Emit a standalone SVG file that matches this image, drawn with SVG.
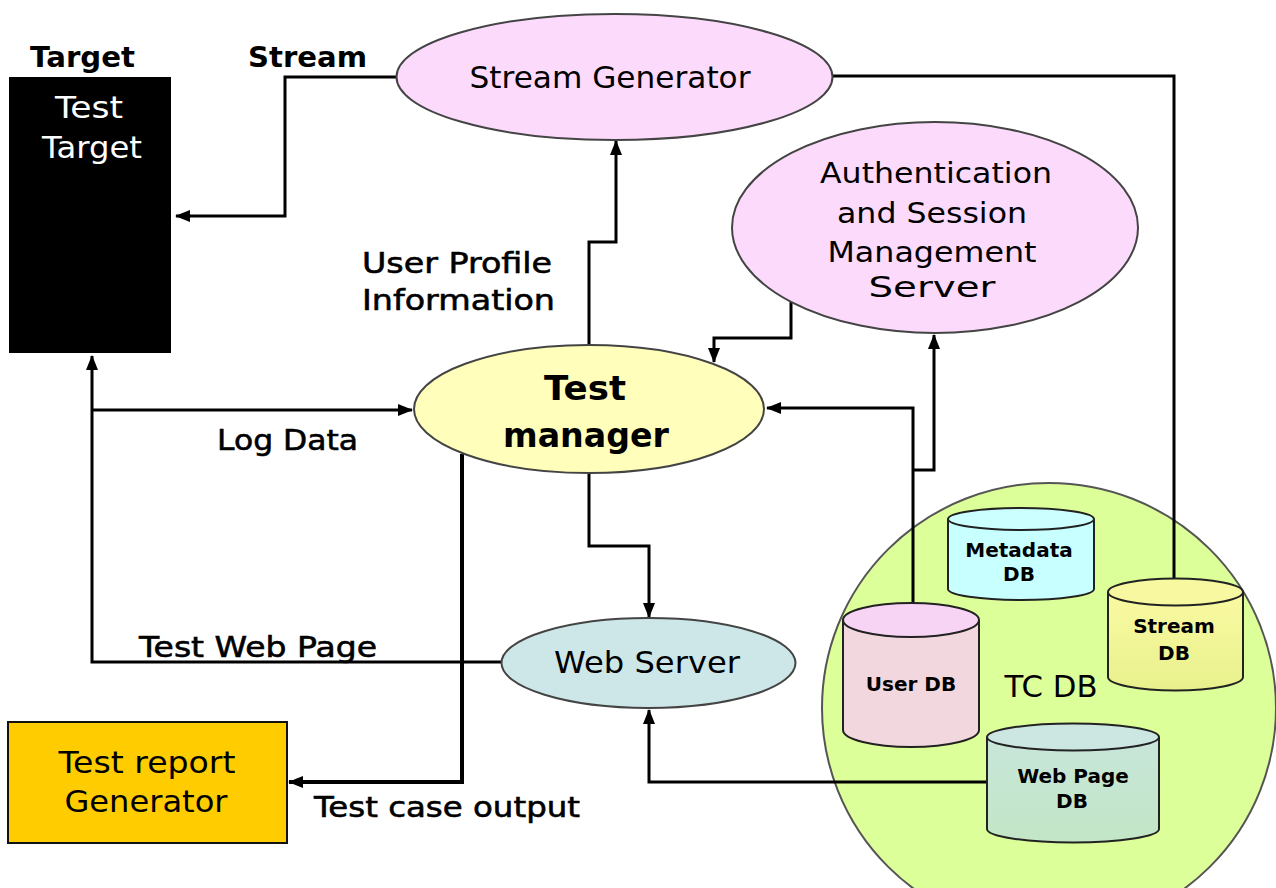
<svg xmlns="http://www.w3.org/2000/svg" width="1276" height="888" viewBox="0 0 1276 888">
  <defs>
    <marker id="arrow" markerUnits="userSpaceOnUse" markerWidth="15" markerHeight="12" refX="14" refY="6" orient="auto">
      <path d="M0,0 L15,6 L0,12 z" fill="#000"/>
    </marker>
    <linearGradient id="streamBody" x1="0" y1="0" x2="0" y2="1">
      <stop offset="0" stop-color="#FAFAA2"/>
      <stop offset="1" stop-color="#E8F08C"/>
    </linearGradient>
    <linearGradient id="webBody" x1="0" y1="0" x2="0" y2="1">
      <stop offset="0" stop-color="#C8E6DA"/>
      <stop offset="1" stop-color="#C2E6C6"/>
    </linearGradient>
  </defs>
  <style>
    text { font-family: "DejaVu Sans", Verdana, sans-serif; fill: #000; }
    .label { font-size: 29px; }
    .heavy { stroke: #000; stroke-width: 0.6px; }
    .bold { font-weight: bold; }
    .node { font-size: 30px; text-anchor: middle; }
    .db { font-size: 20px; font-weight: bold; text-anchor: middle; }
    .oval { stroke: #444; stroke-width: 2; }
    .cyl { stroke: #222; stroke-width: 2; }
    .wire { fill: none; stroke: #000; stroke-width: 3; }
    .thick { stroke-width: 4; }
    .head { marker-end: url(#arrow); }
  </style>

  <rect width="1276" height="888" fill="#fff"/>

  <!-- TC DB container -->
  <g id="tc-db">
    <ellipse cx="1049" cy="708" rx="227" ry="225" fill="#DDFF99" stroke="#555" stroke-width="2"/>
    <text x="1051" y="697" style="font-size:31px;text-anchor:middle" textLength="93" lengthAdjust="spacingAndGlyphs">TC DB</text>
  </g>

  <!-- connectors -->
  <g id="connectors">
    <path class="wire head" d="M396,77 H285 V216 H176"/>
    <path class="wire head" d="M589,345 V242 H616 V141"/>
    <path class="wire head" d="M791,302 V338 H714 V362"/>
    <path class="wire head" d="M913,603 V408 H767"/>
    <path class="wire head" d="M913,470 H934 V335"/>
    <path class="wire" d="M833,76 H1174 V578"/>
    <path class="wire head" d="M502,662 H92 V356"/>
    <path class="wire head" d="M92,410 H412"/>
    <path class="wire head" d="M589,473 V546 H649 V617"/>
    <path class="wire head" d="M987,782 H649 V710"/>
    <path class="wire thick head" d="M462,454 V782 H289"/>
  </g>

  <!-- Test Target -->
  <g id="test-target">
    <text x="30" y="67" class="label bold" style="font-size:28px" textLength="105" lengthAdjust="spacingAndGlyphs">Target</text>
    <rect x="9" y="77" width="162" height="276" fill="#000"/>
    <text x="89" y="118" class="node" style="fill:#fff" textLength="68" lengthAdjust="spacingAndGlyphs">Test</text>
    <text x="92" y="158" class="node" style="fill:#fff" textLength="100" lengthAdjust="spacingAndGlyphs">Target</text>
  </g>

  <!-- Stream Generator -->
  <g id="stream-generator">
    <text x="248" y="67" class="label bold" style="font-size:28px" textLength="119" lengthAdjust="spacingAndGlyphs">Stream</text>
    <ellipse cx="614.5" cy="77" rx="218" ry="63" fill="#FCDAFC" class="oval"/>
    <text x="610" y="88" class="node" style="font-size:31px" textLength="281" lengthAdjust="spacingAndGlyphs">Stream Generator</text>
  </g>

  <!-- Authentication and Session Management Server -->
  <g id="auth-server">
    <ellipse cx="935" cy="227.5" rx="203" ry="105.5" fill="#FCDAFC" class="oval"/>
    <text x="936" y="183" class="node" style="font-size:29px" textLength="232" lengthAdjust="spacingAndGlyphs">Authentication</text>
    <text x="932" y="223" class="node" style="font-size:29px" textLength="190" lengthAdjust="spacingAndGlyphs">and Session</text>
    <text x="932" y="262" class="node" style="font-size:29px" textLength="209" lengthAdjust="spacingAndGlyphs">Management</text>
    <text x="932" y="297" class="node" style="font-size:29px" textLength="127" lengthAdjust="spacingAndGlyphs">Server</text>
  </g>

  <!-- Test manager -->
  <g id="test-manager">
    <text x="362" y="273" class="label heavy" textLength="190" lengthAdjust="spacingAndGlyphs">User Profile</text>
    <text x="362" y="310" class="label heavy" textLength="193" lengthAdjust="spacingAndGlyphs">Information</text>
    <text x="217" y="450" class="label heavy" textLength="141" lengthAdjust="spacingAndGlyphs">Log Data</text>
    <ellipse cx="589" cy="409" rx="175" ry="64" fill="#FFFFBB" class="oval"/>
    <text x="585" y="400" class="node bold" style="font-size:33px" textLength="82" lengthAdjust="spacingAndGlyphs">Test</text>
    <text x="586" y="447" class="node bold" style="font-size:33px" textLength="166" lengthAdjust="spacingAndGlyphs">manager</text>
  </g>

  <!-- Web Server -->
  <g id="web-server">
    <text x="139" y="657" class="label heavy" textLength="238" lengthAdjust="spacingAndGlyphs">Test Web Page</text>
    <ellipse cx="648.5" cy="663" rx="147" ry="45" fill="#CDE7E9" class="oval"/>
    <text x="647" y="673" class="node" textLength="186" lengthAdjust="spacingAndGlyphs">Web Server</text>
  </g>

  <!-- Test report Generator -->
  <g id="test-report">
    <rect x="8" y="722" width="279" height="121" fill="#FFCC00" stroke="#111" stroke-width="2"/>
    <text x="147" y="773" class="node" textLength="177" lengthAdjust="spacingAndGlyphs">Test report</text>
    <text x="146" y="812" class="node" textLength="163" lengthAdjust="spacingAndGlyphs">Generator</text>
    <text x="314" y="817" class="label heavy" textLength="266" lengthAdjust="spacingAndGlyphs">Test case output</text>
  </g>

  <!-- Metadata DB -->
  <g id="metadata-db">
    <path class="cyl" fill="#C8FFFF" d="M948,519 V589 A73,11 0 0 0 1094,589 V519"/>
    <ellipse class="cyl" cx="1021" cy="519" rx="73" ry="11" fill="#CCFFFF"/>
    <text x="1019" y="557" class="db">Metadata</text>
    <text x="1019" y="581" class="db">DB</text>
  </g>

  <!-- User DB -->
  <g id="user-db">
    <path class="cyl" fill="#F2D8DE" d="M843,620 V730 A68,17 0 0 0 979,730 V620"/>
    <ellipse class="cyl" cx="911" cy="620" rx="68" ry="17" fill="#F8D4F4"/>
    <text x="911" y="691" class="db">User DB</text>
  </g>

  <!-- Stream DB -->
  <g id="stream-db">
    <path class="cyl" fill="url(#streamBody)" d="M1108,592 V677 A67.5,13.5 0 0 0 1243,677 V592"/>
    <ellipse class="cyl" cx="1175.5" cy="592" rx="67.5" ry="13.5" fill="#F8F8A0"/>
    <text x="1174" y="633" class="db">Stream</text>
    <text x="1174" y="660" class="db">DB</text>
  </g>

  <!-- Web Page DB -->
  <g id="webpage-db">
    <path class="cyl" fill="url(#webBody)" d="M987,737 V829 A86,13.5 0 0 0 1159,829 V737"/>
    <ellipse class="cyl" cx="1073" cy="737" rx="86" ry="13.5" fill="#CCE6E2"/>
    <text x="1073" y="783" class="db">Web Page</text>
    <text x="1072" y="808" class="db">DB</text>
  </g>
</svg>
